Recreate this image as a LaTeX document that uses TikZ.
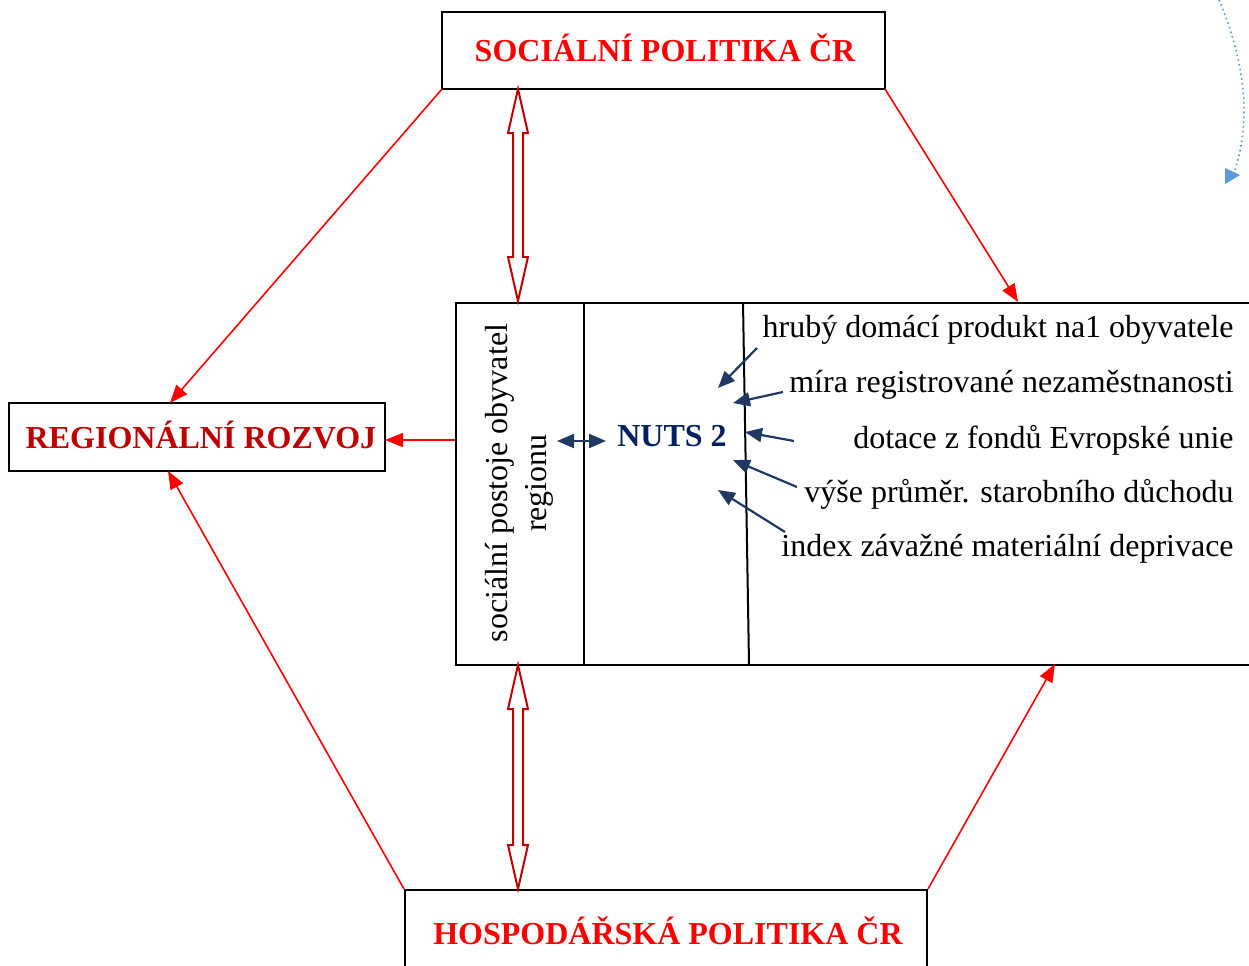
\documentclass[tikz,border=0pt]{standalone}
\usepackage{fontspec}
\setmainfont{Liberation Serif}
\usetikzlibrary{arrows.meta}
\definecolor{dred}{RGB}{192,0,0}
\definecolor{navy}{RGB}{0,32,96}
\definecolor{arrblue}{RGB}{31,56,100}
\definecolor{lblue}{RGB}{91,155,213}
\begin{document}
\begin{tikzpicture}[x=0.5pt,y=-0.5pt,
  box/.style={draw=black, line width=1pt, inner sep=0pt},
  title/.style={font=\fontsize{16}{19}\selectfont\bfseries},
  redarr/.style={red, line width=0.8pt, -{Triangle[length=9pt,width=7pt]}},
  bluearr/.style={arrblue, line width=1.1pt, -{Triangle[length=8.5pt,width=7pt]}},
  body/.style={font=\fontsize{16}{19.5}\selectfont, inner sep=0pt},
  hollow/.style={draw=dred, line width=1pt, fill=white, line join=miter}]
\useasboundingbox (0,0) rectangle (1249,965);
\clip (0,0) rectangle (1249,965);
% boxes
\node[box, minimum width=220.5pt, minimum height=37.5pt, draw=none] (soc) at (663.5,50.5) {};
\draw[line width=1pt] (soc.south west) rectangle (soc.north east);
\node[title, text=red, inner sep=0pt] (soct) at (665,48) {SOCIÁLNÍ POLITIKA ČR};
\node[box, minimum width=188pt, minimum height=34pt] (reg) at (197,437) {};
\node[title, text=dred, inner sep=0pt] (regt) at (201,435) {REGIONÁLNÍ ROZVOJ};
\node[box, minimum width=261pt, minimum height=44pt] (hosp) at (666,934) {};
\node[title, text=red, inner sep=0pt] (hospt) at (668,931) {HOSPODÁŘSKÁ POLITIKA ČR};
\node[box, anchor=north west, minimum width=403.5pt, minimum height=181pt] (main) at (455,302) {};
\draw[line width=1pt] (584,302) -- (584,664);
\draw[line width=1pt] (743,302) -- (749,664);
% texts inside main box
\node[body, rotate=90, align=center, font=\fontsize{16}{19.5}\selectfont] (postoje) at (519,483) {sociální postoje obyvatel\\regionu};
\node[title, text=navy, inner sep=0pt] (nuts) at (672,436) {NUTS 2};
\node[body, anchor=east] (t1) at (1234,330) {hrubý domácí produkt na1 obyvatele};
\node[body, anchor=east] (t2) at (1234,385) {míra registrované nezaměstnanosti};
\node[body, anchor=east] (t3) at (1234,440) {dotace z fondů Evropské unie};
\node[body, anchor=east] (t4) at (1234,494) {výše průměr. starobního důchodu};
\node[body, anchor=east] (t5) at (1234,549) {index závažné materiální deprivace};
% coordinates
\coordinate (rtop) at (170,403);
\coordinate (rbot) at (168,471);
\coordinate (mtop) at (1018,302);
\coordinate (mbot) at (1055,664);
\coordinate (mleft) at (455,440);
\coordinate (rright) at (385,440);
% red arrows
\draw[redarr] (soc.south west) -- (rtop);
\draw[redarr] (soc.south east) -- (mtop);
\draw[redarr] (hosp.north west) -- (rbot);
\draw[redarr] (hosp.north east) -- (mbot);
\draw[redarr] (mleft) -- (rright);
% hollow double arrows
\draw[hollow] (518,89) -- (528,133) -- (523,133) -- (523,257) -- (528,257) -- (518,301) -- (508,257) -- (513,257) -- (513,133) -- (508,133) -- cycle;
\draw[hollow] (518,665) -- (528,709) -- (523,709) -- (523,845) -- (528,845) -- (518,889) -- (508,845) -- (513,845) -- (513,709) -- (508,709) -- cycle;
% blue arrows
\coordinate (bl) at (557,441);
\coordinate (br) at (606,441);
\draw[arrblue, line width=1.1pt, {Triangle[length=8.5pt,width=7pt]}-{Triangle[length=8.5pt,width=7pt]}] (bl) -- (br);
\coordinate (a1s) at (757,348); \coordinate (a1e) at (718,388);
\coordinate (a2s) at (783,392); \coordinate (a2e) at (733,403);
\coordinate (a3s) at (794,441); \coordinate (a3e) at (745,432);
\coordinate (a4s) at (797,487); \coordinate (a4e) at (733,460);
\coordinate (a5s) at (785,532); \coordinate (a5e) at (718,490);
\draw[bluearr] (a1s) -- (a1e);
\draw[bluearr] (a2s) -- (a2e);
\draw[bluearr] (a3s) -- (a3e);
\draw[bluearr] (a4s) -- (a4e);
\draw[bluearr] (a5s) -- (a5e);
% dotted curve top right
\coordinate (cs) at (1219,0);
\coordinate (ce) at (1235,170);
\draw[lblue, line width=0.8pt, dash pattern=on 0.8pt off 1.6pt] (cs) .. controls (1240,50) and (1254,110) .. (ce);
\fill[lblue] (1225,168) -- (1240,175) -- (1225,184) -- cycle;
\end{tikzpicture}
\end{document}
